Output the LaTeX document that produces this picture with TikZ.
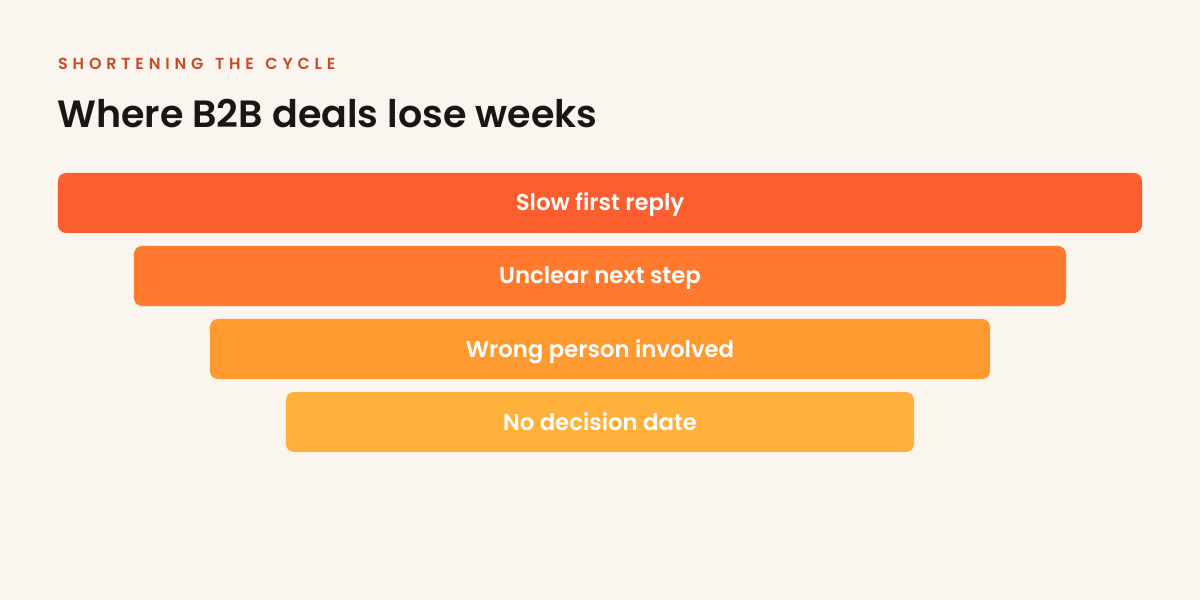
\documentclass[tikz,border=0pt]{standalone}
\usepackage{fontspec}
\setmainfont{Poppins}
\newfontfamily\semi{Poppins SemiBold}
\definecolor{bg}{HTML}{FAF5EF}
\definecolor{kicker}{HTML}{C94A24}
\definecolor{ink}{HTML}{1A1613}
\definecolor{barA}{HTML}{FC5E30}
\definecolor{barB}{HTML}{FF7A2F}
\definecolor{barC}{HTML}{FF9A30}
\definecolor{barD}{HTML}{FFB13C}
\tikzset{
  bar/.style={rounded corners=8bp, minimum height=60bp, inner sep=0pt,
    text=white, font=\fontsize{22.8bp}{26bp}\semi,
    text height=16bp, text depth=0pt},
}
\begin{document}
\begin{tikzpicture}[x=1bp,y=-1bp]
\fill[bg] (0,0) rectangle (1200,600);
\useasboundingbox (0,0) rectangle (1200,600);
\node[anchor=base west, inner sep=0pt, text=kicker,
  font=\fontsize{16bp}{18bp}\semi\addfontfeatures{LetterSpace=30}]
  (kick) at (58,70) {SHORTENING\hspace{3bp} THE\hspace{3bp} CYCLE};
\node[anchor=base west, inner sep=0pt, text=ink,
  font=\fontsize{38bp}{44bp}\semi]
  (title) at (57,128) {Where B2B deals lose weeks};
\node[bar, fill=barA, minimum width=1084bp] (b1) at (600,203) {Slow first reply};
\node[bar, fill=barB, minimum width=932bp] (b2) at (600,276) {Unclear next step};
\node[bar, fill=barC, minimum width=780bp] (b3) at (600,349) {Wrong person involved};
\node[bar, fill=barD, minimum width=628bp] (b4) at (600,422) {No decision date};
\end{tikzpicture}
\end{document}
